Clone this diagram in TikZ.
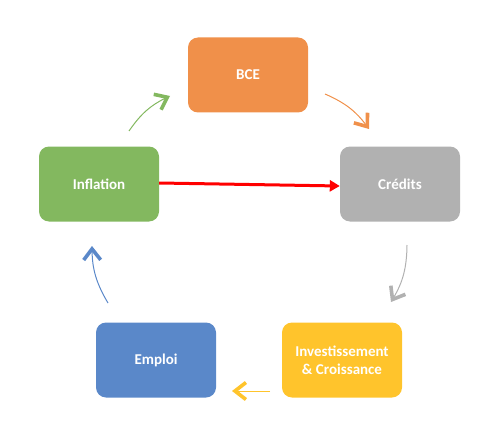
\documentclass[tikz,border=0pt]{standalone}
\usepackage{fontspec}
\setmainfont{Carlito}
\usetikzlibrary{arrows.meta}
\definecolor{bceorange}{HTML}{F0904A}
\definecolor{creditgray}{HTML}{B1B1B1}
\definecolor{inflgreen}{HTML}{83B85F}
\definecolor{invyellow}{HTML}{FFC42C}
\definecolor{emplblue}{HTML}{5A88C9}
\tikzset{
  box/.style={rounded corners=10pt, minimum width=120pt, minimum height=75pt,
    text=white, font=\fontsize{15}{18}\selectfont\bfseries, align=center, inner sep=0pt},
  cyc/.style={line width=1pt, -{Straight Barb[line width=3.6pt, length=11pt, width=17pt]}}
}
\begin{document}
\begin{tikzpicture}[x=1pt,y=1pt]
\useasboundingbox (0,0) rectangle (500,-433);

\node[box, fill=bceorange] (bce) at (248,-75) {BCE};
\node[box, fill=creditgray] (cred) at (400,-184) {Crédits};
\node[box, fill=inflgreen] (infl) at (99,-184) {Inflation};
\node[box, fill=invyellow] (inv) at (342,-360) {Investissement\\\& Croissance};
\node[box, fill=emplblue] (empl) at (156,-360) {Emploi};

\coordinate (g1) at (129,-131);
\coordinate (g2) at (170,-96);
\coordinate (o1) at (325,-94);
\coordinate (o2) at (369,-129);
\coordinate (c1) at (407,-245);
\coordinate (c2) at (391,-302);
\coordinate (y1) at (270,-391);
\coordinate (y2) at (232,-391);
\coordinate (b1) at (108,-303);
\coordinate (b2) at (92,-246);

\draw[cyc, inflgreen] (g1) to[bend left=15] (g2);
\draw[cyc, bceorange] (o1) to[bend left=15] (o2);
\draw[cyc, creditgray] (c1) to[bend left=15] (c2);
\draw[cyc, invyellow] (y1) -- (y2);
\draw[cyc, emplblue] (b1) to[bend left=15] (b2);

\draw[red, line width=3pt, -{Triangle[length=10pt, width=11pt]}] ([yshift=1pt]infl.east) -- ([yshift=-2pt]cred.west);
\end{tikzpicture}
\end{document}
